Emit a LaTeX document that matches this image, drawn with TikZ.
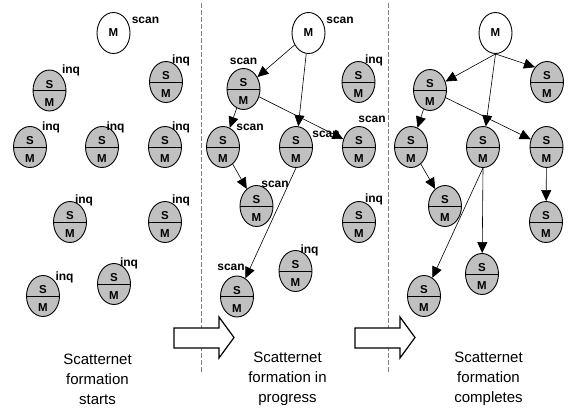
\documentclass[tikz,border=0pt]{standalone}
\usepackage{fontspec}
\setmainfont{Liberation Sans}
\usetikzlibrary{arrows.meta,shapes.geometric}
\definecolor{nodegray}{RGB}{192,192,192}

\begin{document}
\begin{tikzpicture}[x=1pt,y=-1pt,
    sm/.style={ellipse,draw,line width=0.9pt,fill=nodegray,minimum width=33pt,minimum height=41pt,inner sep=0pt,
      path picture={
        \draw[line width=0.9pt] (path picture bounding box.west) -- (path picture bounding box.east);
        \node[font=\fontsize{11.5}{11.5}\bfseries\selectfont] at ([yshift=6pt]path picture bounding box.center) {S};
        \node[font=\fontsize{11.5}{11.5}\bfseries\selectfont] at ([yshift=-12pt]path picture bounding box.center) {M};}},
    mnode/.style={ellipse,draw,line width=0.9pt,fill=white,minimum width=33pt,minimum height=41pt,inner sep=0pt,
      font=\fontsize{11.5}{11.5}\bfseries\selectfont},
    lbl/.style={inner sep=0pt,font=\fontsize{12}{12}\bfseries\selectfont},
    link/.style={line width=0.6pt,-{Triangle[length=11pt,width=10pt]}},
    caption/.style={align=center,font=\fontsize{15}{20}\selectfont},
    divider/.style={gray,line width=0.8pt,dash pattern=on 5pt off 2pt},
    bigarrow/.style={draw,fill=white,line width=1.2pt,line join=miter}
  ]
  \useasboundingbox (0,0) rectangle (569,410);

  % panel 1: formation starts
  \node[mnode] (m1) at (113.5,33) {M};
  \node[sm] (a1) at (49.5,90.5) {};
  \node[sm] (b1) at (166,82) {};
  \node[sm] (c1) at (30,147) {};
  \node[sm] (d1) at (102,147) {};
  \node[sm] (e1) at (165,147) {};
  \node[sm] (f1) at (70,222) {};
  \node[sm] (g1) at (165,222) {};
  \node[sm] (h1) at (43,296) {};
  \node[sm] (i1) at (114,284) {};
  \node[lbl] (m1l) at (145.5,20) {scan};
  \node[lbl] (a1l) at (71,70) {inq};
  \node[lbl] (b1l) at (181,60) {inq};
  \node[lbl] (c1l) at (51,127) {inq};
  \node[lbl] (d1l) at (115.5,127) {inq};
  \node[lbl] (e1l) at (181,127) {inq};
  \node[lbl] (f1l) at (84,200) {inq};
  \node[lbl] (g1l) at (181,200) {inq};
  \node[lbl] (h1l) at (64.5,277) {inq};
  \node[lbl] (i1l) at (129,263) {inq};

  % panel 2: in progress
  \node[mnode] (m2) at (308.5,33) {M};
  \node[sm] (a2) at (243.5,89) {};
  \node[sm] (b2) at (358.5,82) {};
  \node[sm] (c2) at (223,147) {};
  \node[sm] (d2) at (296,147) {};
  \node[sm] (e2) at (359,147) {};
  \node[sm] (f2) at (256.5,206) {};
  \node[sm] (g2) at (359,222) {};
  \node[sm] (h2) at (295.5,271) {};
  \node[sm] (k2) at (237,296.5) {};
  \node[lbl] (m2l) at (340,20) {scan};
  \node[lbl] (a2l) at (243.5,61) {scan};
  \node[lbl] (b2l) at (374,60) {inq};
  \node[lbl] (c2l) at (250,127) {scan};
  \node[lbl] (d2l) at (326,134) {scan};
  \node[lbl] (e2l) at (372,119) {scan};
  \node[lbl] (f2l) at (275,184) {scan};
  \node[lbl] (g2l) at (374,199) {inq};
  \node[lbl] (h2l) at (309.5,250) {inq};
  \node[lbl] (k2l) at (231,267) {scan};
  \draw[link] (m2) -- (a2);
  \draw[link] (m2) -- (d2);
  \draw[link] (a2) -- (c2);
  \draw[link] (a2) -- (e2);
  \draw[link] (c2) -- (f2);
  \draw[link] (d2.south) -- (k2);

  % panel 3: completes
  \node[mnode] (m3) at (495.5,33) {M};
  \node[sm] (a3) at (430,90) {};
  \node[sm] (b3) at (547,82) {};
  \node[sm] (c3) at (411,147) {};
  \node[sm] (d3) at (483,147) {};
  \node[sm] (e3) at (546.5,147) {};
  \node[sm] (f3) at (445,206) {};
  \node[sm] (g3) at (546,222) {};
  \node[sm] (h3) at (482,274) {};
  \node[sm] (k3) at (424,296) {};
  \draw[link] (m3.south) -- (a3);
  \draw[link] (m3.south) -- (b3.north west);
  \draw[link] (m3.south) -- (d3);
  \draw[link] (a3) -- (c3);
  \draw[link] (a3) -- (e3);
  \draw[link] (c3) -- (f3);
  \draw[link] (d3.south) -- (k3);
  \draw[link] (d3.south) -- (h3);
  \draw[link] (e3) -- (g3);

  % separators and block arrows
  \draw[divider] (201.5,3) -- (201.5,373);
  \draw[divider] (388.5,3) -- (388.5,373);
  \draw[bigarrow] (174,328) -- (219,328) -- (219,317) -- (234,337.5) -- (219,358) -- (219,348) -- (174,348) -- cycle;
  \draw[bigarrow,xshift=181pt] (174,328) -- (219,328) -- (219,317) -- (234,337.5) -- (219,358) -- (219,348) -- (174,348) -- cycle;

  \node[caption] (cap1) at (97.5,379) {Scatternet\\formation\\starts};
  \node[caption] (cap2) at (287.5,379) {Scatternet\\formation in\\progress};
  \node[caption] (cap3) at (488.5,379) {Scatternet\\formation\\completes};
\end{tikzpicture}
\end{document}
